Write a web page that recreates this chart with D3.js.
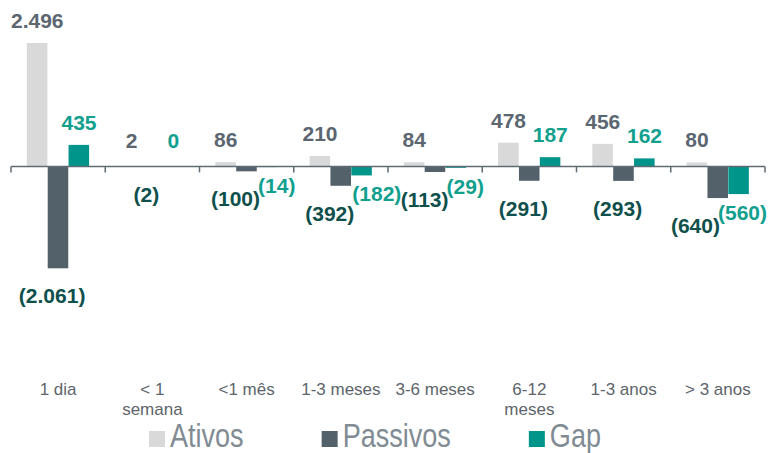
<!DOCTYPE html>
<html>
<head>
<meta charset="utf-8">
<script src="https://cdn.jsdelivr.net/npm/d3@7"></script>
<style>
    body { margin: 0; background: #fff; }
    svg { display: block; font-family: "Liberation Sans", Arial, sans-serif; }
</style>
</head>
<body>
<div class="chart"></div>
<script>
//chart values
var categories = ["1 dia", "< 1\nsemana", "<1 mês", "1-3 meses", "3-6 meses", "6-12\nmeses", "1-3 anos", "> 3 anos"];
var series = ["Ativos", "Passivos", "Gap"];
var ativos = [2496, 2, 86, 210, 84, 478, 456, 80];
var passivos = [-2061, -2, -100, -392, -113, -291, -293, -640];
var gap = [435, 0, -14, -182, -29, 187, 162, -560];

var colors = { "Ativos": "#d9d9d9", "Passivos": "#53626a", "Gap": "#00958a" };
var labelColors = {
    "Ativos": { pos: "#5b6670", neg: "#5b6670" },
    "Passivos": { pos: "#5b6670", neg: "#0f4f4c" },
    "Gap": { pos: "#12a08e", neg: "#12a08e" }
};

var width = 770;
var height = 453;

//build rows for each category
var rows = categories.map(function(c, i) {
    return { category: c, values: [
        { key: "Ativos", value: ativos[i] },
        { key: "Passivos", value: passivos[i] },
        { key: "Gap", value: gap[i] }
    ] };
});

//brazilian number format, negatives in parentheses
var locale = d3.formatLocale({ decimal: ",", thousands: ".", grouping: [3], currency: ["", ""] });
var fmt = locale.format(",d");
function label(v) {
    return v < 0 ? "(" + fmt(-v) + ")" : fmt(v);
}

var svg = d3.select('.chart')
    .append('svg')
    .attr('width', width)
    .attr('height', height);

var x0 = d3.scaleBand()
    .domain(categories)
    .range([11, 765])
    .paddingInner(0)
    .paddingOuter(0);

var x1 = d3.scaleBand()
    .domain(series)
    .range([0, x0.bandwidth()])
    .paddingInner(0)
    .paddingOuter(0.76);

var y = d3.scaleLinear()
    .domain([-2061, 2496])
    .range([268.3, 43]);

var groups = svg.selectAll('.group')
    .data(rows)
    .enter()
    .append('g')
    .attr('class', 'group')
    .attr('transform', function(d) {
        return "translate(" + x0(d.category) + ",0)";
    });

//bars
groups.selectAll('rect')
    .data(function(d) { return d.values; })
    .enter()
    .append('rect')
    .attr('x', function(d) { return x1(d.key); })
    .attr('width', x1.bandwidth() - 0.3)
    .attr('y', function(d) { return Math.min(y(d.value), y(0)); })
    .attr('height', function(d) { return Math.abs(y(d.value) - y(0)); })
    .attr('fill', function(d) { return colors[d.key]; });

//axis line with ticks between categories
var zeroY = y(0);
svg.append('line')
    .attr('x1', x0.range()[0])
    .attr('x2', x0.range()[1])
    .attr('y1', zeroY)
    .attr('y2', zeroY)
    .attr('stroke', '#5f6b73')
    .attr('stroke-width', 1.5);

var tickXs = categories.map(function(c) { return x0(c); }).concat([x0.range()[1]]);
svg.selectAll('.tick')
    .data(tickXs)
    .enter()
    .append('line')
    .attr('class', 'tick')
    .attr('x1', function(d) { return d; })
    .attr('x2', function(d) { return d; })
    .attr('y1', zeroY)
    .attr('y2', zeroY + 6)
    .attr('stroke', '#5f6b73')
    .attr('stroke-width', 1.5);

//value labels
groups.each(function(row) {
    var g = d3.select(this);
    var gx = x0(row.category);
    var pas = row.values[1], gp = row.values[2];
    //when passivos and gap are both negative their labels split left/right of the bar boundary
    var bothNeg = pas.value < 0 && gp.value < 0;
    var boundary = x1("Gap");

    var texts = g.selectAll('.val')
        .data(row.values)
        .enter()
        .append('text')
        .attr('class', 'val')
        .attr('font-size', '21px')
        .attr('font-weight', 'bold')
        .attr('text-anchor', function(d) {
            if (bothNeg && d.key === "Passivos") return 'end';
            if (bothNeg && d.key === "Gap") return 'start';
            return 'middle';
        })
        .attr('x', function(d) {
            var cx = x1(d.key) + x1.bandwidth() / 2;
            if (bothNeg && d.key === "Passivos") return boundary + 3;
            if (bothNeg && d.key === "Gap") return boundary + 1;
            if (d.value < 0 && d.key === "Passivos") return cx - 6;
            return cx;
        })
        .attr('y', function(d) {
            if (d.value >= 0) return Math.min(y(d.value) - 15, zeroY - 18.5);
            if (d.key === "Passivos") return Math.max(y(d.value) + 35, zeroY + 31.5);
            return Math.max(y(d.value) + 26, zeroY + 25.5);
        })
        .attr('fill', function(d) {
            return d.value < 0 ? labelColors[d.key].neg : labelColors[d.key].pos;
        })
        .text(function(d) { return label(d.value); });

    //keep the right label inside the picture, moving the pair together
    if (bothNeg) {
        var gapNode = texts.filter(function(d) { return d.key === "Gap"; }).node();
        var right = gx + boundary + 1 + gapNode.getComputedTextLength();
        var over = right - (width - 3);
        if (over > 0) {
            texts.filter(function(d) { return d.key !== "Ativos"; })
                .attr('x', function() { return +d3.select(this).attr('x') - over; });
        }
    }
});

//category labels, split on line breaks
var cat = svg.selectAll('.cat')
    .data(categories)
    .enter()
    .append('text')
    .attr('class', 'cat')
    .attr('text-anchor', 'middle')
    .attr('font-size', '17px')
    .attr('fill', '#5d646b')
    .attr('y', 395);

cat.selectAll('tspan')
    .data(function(d) {
        return d.split("\n").map(function(t) { return { text: t, cat: d }; });
    })
    .enter()
    .append('tspan')
    .attr('x', function(d) { return x0(d.cat) + x0.bandwidth() / 2; })
    .attr('dy', function(d, i) { return i === 0 ? 0 : 20; })
    .text(function(d) { return d.text; });

//legend
var legend = svg.append('g').attr('class', 'legend');
var lx = 149;
series.forEach(function(s) {
    legend.append('rect')
        .attr('x', lx)
        .attr('y', 431)
        .attr('width', 16)
        .attr('height', 16)
        .attr('fill', colors[s]);
    var t = legend.append('text')
        .attr('transform', "translate(" + (lx + 21) + ",447) scale(0.82,1)")
        .attr('font-size', '33px')
        .attr('fill', '#808b94')
        .text(s);
    lx += 21 + t.node().getComputedTextLength() * 0.82 + 78;
});
</script>
</body>
</html>
